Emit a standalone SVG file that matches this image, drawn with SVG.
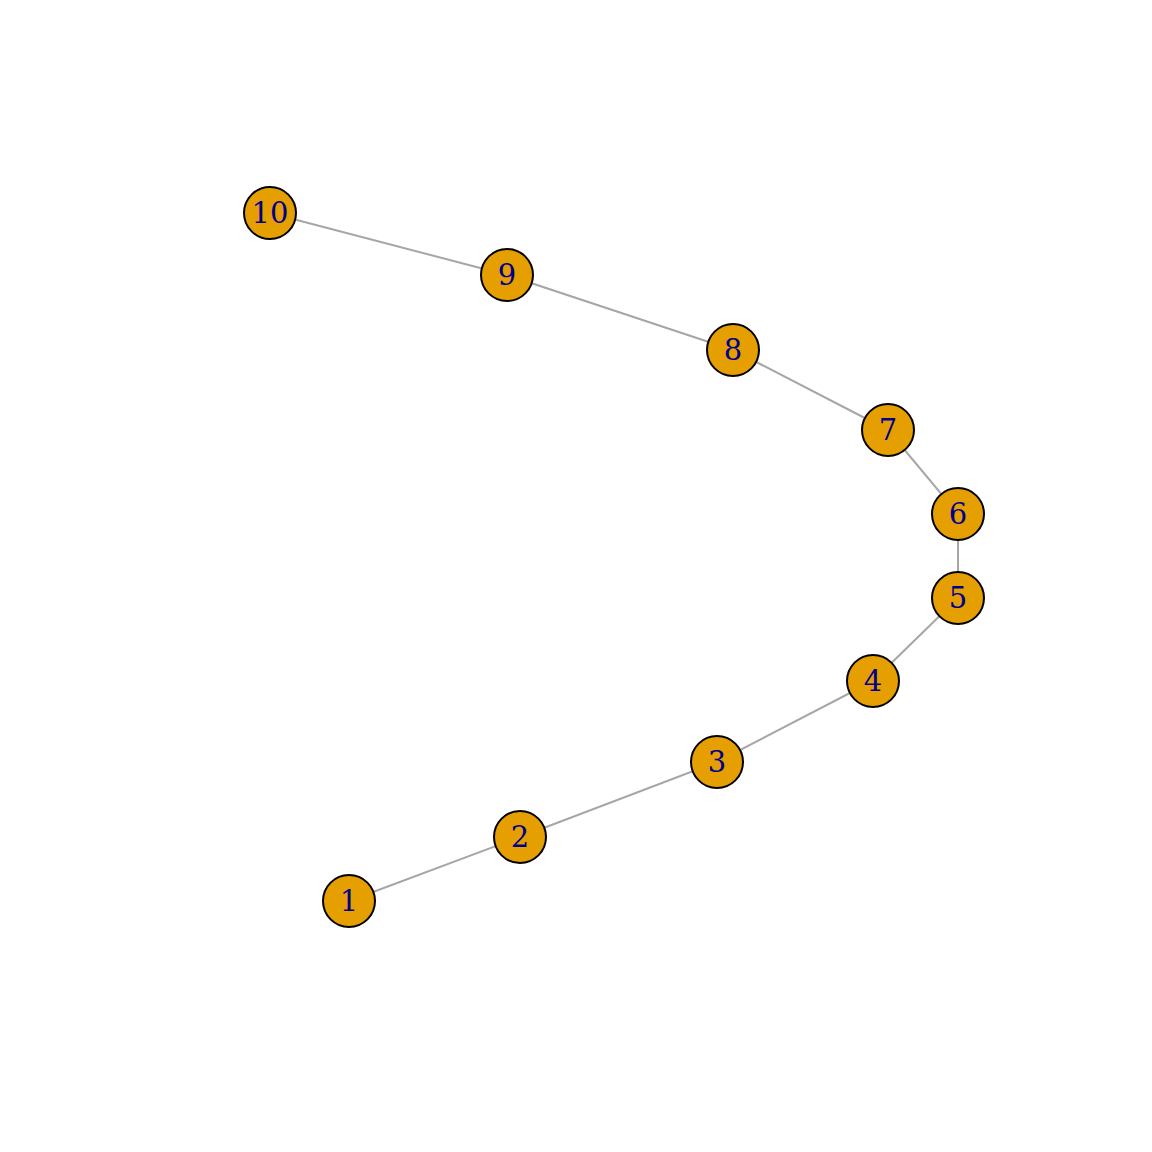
<svg xmlns="http://www.w3.org/2000/svg" width="1152" height="1152" viewBox="0 0 1152 1152">
<style>
.e{stroke:#A6A6A6;stroke-width:2;fill:none}
.n circle{fill:#E69F00;stroke:#000;stroke-width:2}
.n text{font-family:"DejaVu Serif",serif;font-size:29px;fill:#00008B;text-anchor:middle;dominant-baseline:central}
</style>
<rect width="1152" height="1152" fill="#fff"/>
<g id="edges">
<line class="e" x1="349" y1="901" x2="520" y2="837"/>
<line class="e" x1="520" y1="837" x2="717" y2="762"/>
<line class="e" x1="717" y1="762" x2="873" y2="681"/>
<line class="e" x1="873" y1="681" x2="958" y2="598"/>
<line class="e" x1="958" y1="598" x2="958" y2="514"/>
<line class="e" x1="958" y1="514" x2="888" y2="430"/>
<line class="e" x1="888" y1="430" x2="733" y2="350"/>
<line class="e" x1="733" y1="350" x2="507" y2="275"/>
<line class="e" x1="507" y1="275" x2="270" y2="213"/>
</g>
<g id="n1" class="n"><circle cx="349" cy="901" r="26"/><text x="349" y="901">1</text></g>
<g id="n2" class="n"><circle cx="520" cy="837" r="26"/><text x="520" y="837">2</text></g>
<g id="n3" class="n"><circle cx="717" cy="762" r="26"/><text x="717" y="762">3</text></g>
<g id="n4" class="n"><circle cx="873" cy="681" r="26"/><text x="873" y="681">4</text></g>
<g id="n5" class="n"><circle cx="958" cy="598" r="26"/><text x="958" y="598">5</text></g>
<g id="n6" class="n"><circle cx="958" cy="514" r="26"/><text x="958" y="514">6</text></g>
<g id="n7" class="n"><circle cx="888" cy="430" r="26"/><text x="888" y="430">7</text></g>
<g id="n8" class="n"><circle cx="733" cy="350" r="26"/><text x="733" y="350">8</text></g>
<g id="n9" class="n"><circle cx="507" cy="275" r="26"/><text x="507" y="275">9</text></g>
<g id="n10" class="n"><circle cx="270" cy="213" r="26"/><text x="270" y="213">10</text></g>
</svg>
